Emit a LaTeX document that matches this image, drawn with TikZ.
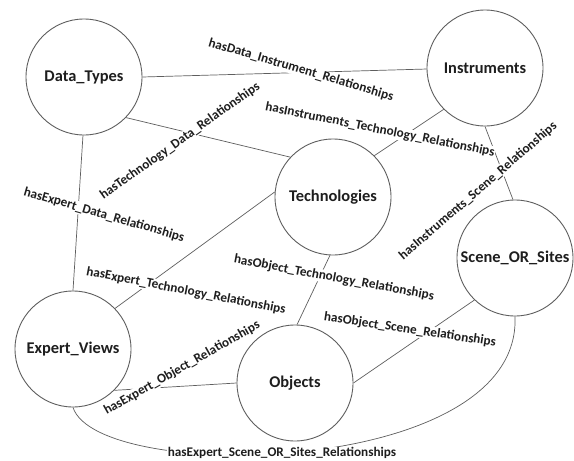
\documentclass[tikz,border=0pt]{standalone}
\usepackage{fontspec}
\setmainfont{Carlito}
\definecolor{linec}{HTML}{5E5E5E}
\definecolor{textc}{HTML}{1E1E1E}
\begin{document}
\begin{tikzpicture}[x=1pt,y=-1pt,
  circ/.style={circle,draw=linec,line width=0.9pt,minimum size=116pt,inner sep=0pt,
    text=textc,font=\fontsize{16.4}{18}\selectfont\bfseries},
  lab/.style={fill=white,inner sep=0.6pt,text=textc,
    font=\fontsize{13.2}{15}\selectfont\bfseries},
  conn/.style={draw=linec,line width=0.7pt}]
\useasboundingbox[fill=white] (0,0) rectangle (574,461);
% circles
\node[circ] (dt) at (84,77) {Data\_Types};
\node[circ] (in) at (485,68) {Instruments};
\node[circ] (te) at (333,197) {Technologies};
\node[circ] (sc) at (515,258) {Scene\_OR\_Sites};
\node[circ] (ev) at (73,349) {Expert\_Views};
\node[circ] (ob) at (295,383) {Objects};
% connectors
\draw[conn] (dt.0) -- (in.181);
\draw[conn] (dt.-44) -- (te.137);
\draw[conn] (dt.-91) -- (ev.90);
\draw[conn] (in.-135) -- (te.45);
\draw[conn] (in.-90) -- (sc.92);
\draw[conn] (te.175) -- (ev.44);
\draw[conn] (te.-93) -- (ob.88);
\draw[conn] (ev.-45) -- (ob.180);
\draw[conn] (ob.0) -- (sc.-134);
\draw[conn] (ev.-90) .. controls (98,484) and (522,478) .. (sc.-90);
% labels
\node[lab,rotate=-16.5] (l1) at (301,70) {hasData\_Instrument\_Relationships};
\node[lab,rotate=35.4] (l2) at (180,141) {hasTechnology\_Data\_Relationships};
\node[lab,rotate=-16.2] (l3) at (104,215) {hasExpert\_Data\_Relationships};
\node[lab,rotate=-11.3] (l4) at (380,130) {hasInstruments\_Technology\_Relationships};
\node[lab,rotate=40.8] (l5) at (478,191) {hasInstruments\_Scene\_Relationships};
\node[lab,rotate=-10.9] (l6) at (186,291) {hasExpert\_Technology\_Relationships};
\node[lab,rotate=-10.6] (l7) at (334,278) {hasObject\_Technology\_Relationships};
\node[lab,rotate=29.6] (l8) at (182,368) {hasExpert\_Object\_Relationships};
\node[lab,rotate=-8.4] (l9) at (410,330) {hasObject\_Scene\_Relationships};
\node[lab] (l10) at (282,453) {hasExpert\_Scene\_OR\_Sites\_Relationships};
\end{tikzpicture}
\end{document}
